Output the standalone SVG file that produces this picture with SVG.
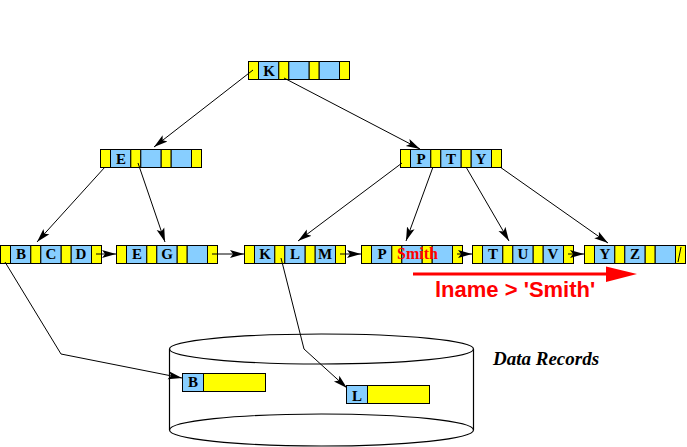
<svg xmlns="http://www.w3.org/2000/svg" xmlns:xlink="http://www.w3.org/1999/xlink" width="687" height="447" viewBox="0 0 687 447">
<style>
.y{fill:#ffff00;stroke:#000;stroke-width:1}
.b{fill:#87ceff;stroke:#000;stroke-width:1}
.k{font-family:"Liberation Serif","Times New Roman",serif;font-weight:bold;font-size:15px;fill:#000;text-anchor:middle}
.con{fill:none;stroke:#000;stroke-width:1}
.cyl{fill:none;stroke:#000;stroke-width:1.2}
</style>
<defs>
<marker id="ah" markerUnits="userSpaceOnUse" markerWidth="15" markerHeight="10" refX="14" refY="5" orient="auto">
<path d="M0,1 L14,5 L0,9 L3,5 Z" fill="#000"/>
</marker>
<g id="node">
<rect class="y" x="0" y="0" width="10" height="18"/>
<rect class="b" x="10" y="0" width="20.3" height="18"/>
<rect class="y" x="30.3" y="0" width="10" height="18"/>
<rect class="b" x="40.3" y="0" width="20.4" height="18"/>
<rect class="y" x="60.7" y="0" width="10" height="18"/>
<rect class="b" x="70.7" y="0" width="20.3" height="18"/>
<rect class="y" x="91" y="0" width="10" height="18"/>
</g>
</defs>
<rect width="687" height="447" fill="#fff"/>

<g id="cylinder">
<ellipse class="cyl" cx="321.5" cy="349" rx="152" ry="15"/>
<ellipse class="cyl" cx="321.5" cy="430" rx="152" ry="16"/>
<line class="cyl" x1="169.5" y1="349" x2="169.5" y2="430"/>
<line class="cyl" x1="473.5" y1="349" x2="473.5" y2="430"/>
</g>

<g id="root">
<use xlink:href="#node" x="248.5" y="61.5"/>
<text class="k" x="269" y="75.5">K</text>
</g>
<g id="n-E">
<use xlink:href="#node" x="100.5" y="149.5"/>
<text class="k" x="121" y="163.5">E</text>
</g>
<g id="n-PTY">
<use xlink:href="#node" x="400.5" y="149.5"/>
<text class="k" x="421" y="163.5">P</text>
<text class="k" x="451" y="163.5">T</text>
<text class="k" x="481" y="163.5">Y</text>
</g>
<g id="leaf-BCD">
<use xlink:href="#node" x="0.5" y="245.5"/>
<text class="k" x="21" y="259">B</text>
<text class="k" x="51" y="259">C</text>
<text class="k" x="81" y="259">D</text>
</g>
<g id="leaf-EG">
<use xlink:href="#node" x="116.5" y="245.5"/>
<text class="k" x="137" y="259">E</text>
<text class="k" x="167" y="259">G</text>
</g>
<g id="leaf-KLM">
<use xlink:href="#node" x="244.5" y="245.5"/>
<text class="k" x="265" y="259">K</text>
<text class="k" x="295" y="259">L</text>
<text class="k" x="325" y="259">M</text>
</g>
<g id="leaf-PSmith">
<use xlink:href="#node" x="361.5" y="245.5"/>
<text class="k" x="382" y="259">P</text>
<text x="397" y="259" font-family="Liberation Serif,'Times New Roman',serif" font-weight="bold" font-size="16" fill="#ff0000">Smith</text>
</g>
<g id="leaf-TUV">
<use xlink:href="#node" x="472.5" y="245.5"/>
<text class="k" x="493" y="259">T</text>
<text class="k" x="523" y="259">U</text>
<text class="k" x="553" y="259">V</text>
</g>
<g id="leaf-YZ">
<use xlink:href="#node" x="584.5" y="245.5"/>
<text class="k" x="605" y="259">Y</text>
<text class="k" x="635" y="259">Z</text>
<line x1="681" y1="247" x2="678" y2="262" stroke="#000" stroke-width="1"/>
</g>

<g id="rec-B">
<rect class="b" x="182.5" y="373.5" width="21" height="18"/>
<rect class="y" x="203.5" y="373.5" width="62" height="18"/>
<text class="k" x="193" y="387">B</text>
</g>
<g id="rec-L">
<rect class="b" x="346.5" y="385.5" width="21" height="18"/>
<rect class="y" x="367.5" y="385.5" width="62" height="18"/>
<text class="k" x="357" y="401">L</text>
</g>

<g id="connectors">
<line class="con" marker-end="url(#ah)" x1="253" y1="70" x2="154" y2="147"/>
<line class="con" marker-end="url(#ah)" x1="284" y1="78" x2="420" y2="149"/>
<line class="con" marker-end="url(#ah)" x1="105" y1="167" x2="37" y2="242"/>
<line class="con" marker-end="url(#ah)" x1="138" y1="163" x2="165" y2="242"/>
<line class="con" marker-end="url(#ah)" x1="402" y1="163" x2="298" y2="241"/>
<line class="con" marker-end="url(#ah)" x1="433" y1="167" x2="406" y2="241"/>
<line class="con" marker-end="url(#ah)" x1="466" y1="167" x2="509" y2="241"/>
<line class="con" marker-end="url(#ah)" x1="500" y1="167" x2="608" y2="243"/>
<line class="con" marker-end="url(#ah)" x1="96" y1="254" x2="116" y2="254"/>
<line class="con" marker-end="url(#ah)" x1="212" y1="254" x2="244" y2="254"/>
<line class="con" marker-end="url(#ah)" x1="340" y1="254" x2="361" y2="254"/>
<line class="con" marker-end="url(#ah)" x1="457" y1="254" x2="472" y2="254"/>
<line class="con" marker-end="url(#ah)" x1="568" y1="254" x2="584" y2="254"/>
<polyline class="con" marker-end="url(#ah)" points="5,262 61,354 182,378"/>
<polyline class="con" marker-end="url(#ah)" points="281,258 304,349 347,388"/>
</g>

<g id="scan-arrow">
<line x1="413" y1="274" x2="608" y2="274" stroke="#ff0000" stroke-width="3"/>
<polygon points="606,266.5 637,274 606,282" fill="#ff0000"/>
<text x="435" y="297" font-family="Liberation Sans,Arial,sans-serif" font-weight="bold" font-size="22" fill="#ff0000">lname &gt; 'Smith'</text>
</g>
<text x="493" y="365" font-family="Liberation Serif,'Times New Roman',serif" font-weight="bold" font-style="italic" font-size="19" fill="#000">Data Records</text>
</svg>
